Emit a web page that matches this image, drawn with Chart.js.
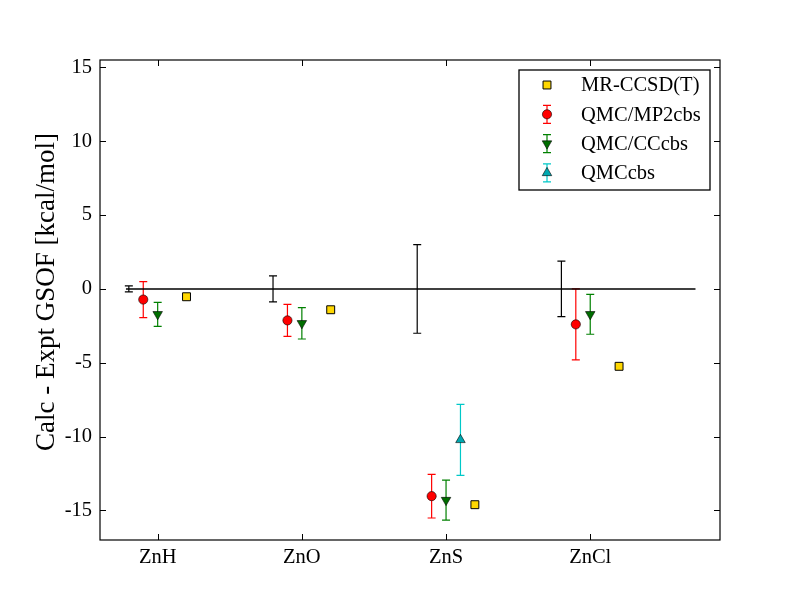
<!DOCTYPE html>
<html>
<head>
<meta charset="utf-8">
<script src="https://cdn.jsdelivr.net/npm/chart.js@4"></script>
<style>
  body { margin: 0; background: #fff; }
</style>
</head>
<body>
<canvas id="graphique" width="800" height="600"></canvas>
<script>
// molecules along x, each one sits at an integer position
const categories = ['ZnH', 'ZnO', 'ZnS', 'ZnCl'];
const catPos = [1, 2, 3, 4];
const yTicks = [-15, -10, -5, 0, 5, 10, 15];
const yTitle = 'Calc - Expt GSOF [kcal/mol]';

// experimental uncertainty (black bars around zero)
const exptErr = [0.2, 0.88, 3.0, 1.88];
// series values + error bars
const mp2 = [-0.72, -2.13, -14.03, -2.4];
const mp2Err = [1.22, 1.08, 1.48, 2.4];
const ccbs = [-1.72, -2.33, -14.3, -1.72];
const ccbsErr = [0.81, 1.06, 1.35, 1.35];
const qmcCbs = [null, null, -10.22, null];
const qmcCbsErr = [null, null, 2.4, null];
const mrccsdt = [-0.53, -1.41, -14.61, -5.24];
// zero reference line ends
const zeroLineX = [0.78, 4.73];

function pts(vals, errs, shift) {
  const out = [];
  vals.forEach((v, i) => {
    if (v === null) return;
    out.push({ x: catPos[i] + shift, y: v, err: errs ? errs[i] : null });
  });
  return out;
}

const serif = "'Liberation Serif', 'DejaVu Serif', serif";

const datasets = [
  {
    label: 'zero', type: 'line', showLine: true,
    data: zeroLineX.map(x => ({ x: x, y: 0 })),
    borderColor: '#000', borderWidth: 1.5, pointRadius: 0
  },
  {
    label: 'expt', data: pts(exptErr.map(() => 0), exptErr, -0.2),
    pointRadius: 0, errColor: '#000'
  },
  {
    label: 'QMC/MP2cbs', data: pts(mp2, mp2Err, -0.1),
    pointStyle: 'circle', pointRadius: 4.6, backgroundColor: '#ff0000',
    borderColor: '#000', borderWidth: 0.6, errColor: '#ff0000'
  },
  {
    label: 'QMC/CCcbs', data: pts(ccbs, ccbsErr, 0),
    pointStyle: 'triangle', rotation: 180, pointRadius: 5.5, backgroundColor: '#006e00',
    borderColor: '#000', borderWidth: 0.6, errColor: '#008000'
  },
  {
    label: 'QMCcbs', data: pts(qmcCbs, qmcCbsErr, 0.1),
    pointStyle: 'triangle', pointRadius: 5.5, backgroundColor: '#00a8b0',
    borderColor: '#000', borderWidth: 0.6, errColor: '#00c8c8'
  },
  {
    label: 'MR-CCSD(T)', data: pts(mrccsdt, null, 0.2),
    pointStyle: 'rect', pointRadius: 5.6, backgroundColor: '#ffd700',
    borderColor: '#000', borderWidth: 1
  }
];

const errorBars = {
  id: 'errorBars',
  beforeDatasetsDraw(chart) {
    const ctx = chart.ctx;
    const xs = chart.scales.x, ys = chart.scales.y;
    chart.data.datasets.forEach(ds => {
      if (!ds.errColor) return;
      ctx.save();
      ctx.strokeStyle = ds.errColor;
      ctx.lineWidth = 1.2;
      ds.data.forEach(d => {
        const px = xs.getPixelForValue(d.x);
        const top = ys.getPixelForValue(d.y + d.err);
        const bot = ys.getPixelForValue(d.y - d.err);
        ctx.beginPath();
        ctx.moveTo(px, top); ctx.lineTo(px, bot);
        ctx.moveTo(px - 4, top); ctx.lineTo(px + 4, top);
        ctx.moveTo(px - 4, bot); ctx.lineTo(px + 4, bot);
        ctx.stroke();
      });
      ctx.restore();
    });
  }
};

const frame = {
  id: 'frame',
  afterDraw(chart) {
    const ctx = chart.ctx;
    const a = chart.chartArea;
    const xs = chart.scales.x, ys = chart.scales.y;
    ctx.save();
    ctx.strokeStyle = '#000';
    ctx.lineWidth = 1;
    ctx.beginPath();
    ys.ticks.forEach(t => {
      const py = Math.round(ys.getPixelForValue(t.value)) + 0.5;
      ctx.moveTo(a.left, py); ctx.lineTo(a.left + 6, py);
      ctx.moveTo(a.right, py); ctx.lineTo(a.right - 6, py);
    });
    xs.ticks.forEach(t => {
      const px = Math.round(xs.getPixelForValue(t.value)) + 0.5;
      ctx.moveTo(px, a.bottom); ctx.lineTo(px, a.bottom - 6);
      ctx.moveTo(px, a.top); ctx.lineTo(px, a.top + 6);
    });
    ctx.stroke();
    ctx.lineWidth = 1.2;
    ctx.strokeRect(a.left, a.top, a.right - a.left, a.bottom - a.top);

    // y title, rotated
    ctx.save();
    ctx.translate(47, 292);
    ctx.rotate(-Math.PI / 2);
    ctx.font = '27px ' + serif;
    ctx.fillStyle = '#000';
    ctx.textAlign = 'center';
    ctx.textBaseline = 'middle';
    ctx.fillText(yTitle, 0, 0);
    ctx.restore();

    // legend box
    const lx = 519, ly = 70, lw = 191, lh = 120;
    ctx.fillStyle = '#fff';
    ctx.fillRect(lx, ly, lw, lh);
    ctx.lineWidth = 1.3;
    ctx.strokeRect(lx, ly, lw, lh);
    const order = ['MR-CCSD(T)', 'QMC/MP2cbs', 'QMC/CCcbs', 'QMCcbs'];
    ctx.font = '20.5px ' + serif;
    ctx.textBaseline = 'middle';
    order.forEach((name, i) => {
      const ds = chart.data.datasets.find(d => d.label === name);
      const cy = ly + 15 + i * 29.3;
      const mx = lx + 28;
      if (ds.errColor) {
        ctx.strokeStyle = ds.errColor;
        ctx.lineWidth = 1.2;
        ctx.beginPath();
        ctx.moveTo(mx, cy - 9); ctx.lineTo(mx, cy + 9);
        ctx.moveTo(mx - 4, cy - 9); ctx.lineTo(mx + 4, cy - 9);
        ctx.moveTo(mx - 4, cy + 9); ctx.lineTo(mx + 4, cy + 9);
        ctx.stroke();
      }
      ctx.fillStyle = ds.backgroundColor;
      ctx.strokeStyle = ds.borderColor;
      ctx.lineWidth = ds.borderWidth;
      Chart.helpers.drawPoint(ctx, {
        pointStyle: ds.pointStyle, radius: ds.pointRadius,
        rotation: ds.rotation || 0, borderWidth: ds.borderWidth
      }, mx, cy);
      ctx.fillStyle = '#000';
      ctx.fillText(name, lx + 62, cy + 1);
    });
    ctx.restore();
  }
};

new Chart(document.getElementById('graphique'), {
  type: 'scatter',
  data: { datasets: datasets },
  plugins: [errorBars, frame],
  options: {
    responsive: false,
    animation: false,
    layout: { padding: { top: 60, right: 80, left: 0, bottom: 0 } },
    plugins: { legend: { display: false }, tooltip: { enabled: false } },
    scales: {
      x: {
        type: 'linear', min: 0.6, max: 4.9,
        afterBuildTicks: s => { s.ticks = catPos.map(v => ({ value: v })); },
        afterFit: s => { s.height = 60; },
        grid: { display: false, drawTicks: false },
        border: { display: false },
        ticks: {
          color: '#000', padding: 5, maxRotation: 0,
          font: { family: serif, size: 20.5 },
          callback: v => categories[catPos.indexOf(v)]
        }
      },
      y: {
        type: 'linear', min: -17, max: 15.5,
        afterBuildTicks: s => { s.ticks = yTicks.map(v => ({ value: v })); },
        afterFit: s => { s.width = 100; },
        grid: { display: false, drawTicks: false },
        border: { display: false },
        ticks: {
          color: '#000', padding: 8,
          font: { family: serif, size: 20.5 },
          callback: v => String(v)
        }
      }
    }
  }
});
</script>
</body>
</html>
